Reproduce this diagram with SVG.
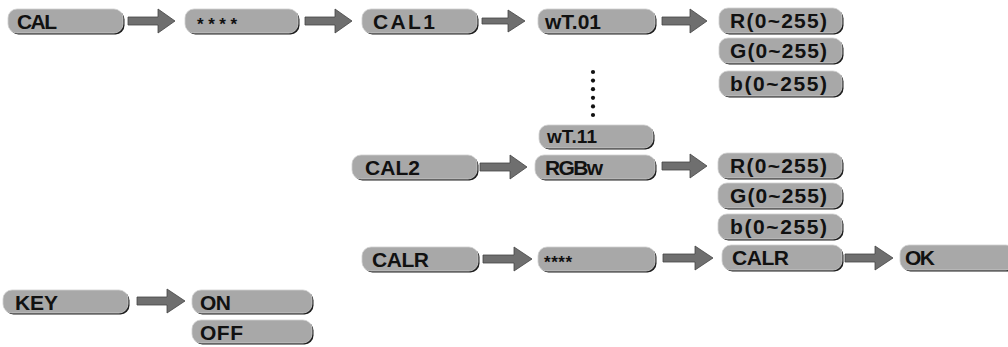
<svg xmlns="http://www.w3.org/2000/svg" width="1008" height="347" viewBox="0 0 1008 347">
<style>
.sh{fill:#1e1e1e}
.bx{fill:#a8a8a8;stroke:#cfcfcf;stroke-width:0.8}
.t{font-family:"Liberation Sans",Arial,sans-serif;font-weight:bold;font-size:21px;fill:#111}
.ast{font-family:"Liberation Sans",Arial,sans-serif;font-weight:bold;font-size:17px;fill:#111}
.ar{fill:#6f6f6f;stroke:#444;stroke-width:0.8;stroke-linejoin:miter}
.dot{fill:#111}
</style>
<rect width="1008" height="347" fill="#fff"/>
<g id="connectors">
<path class="ar" d="M128,17 H158 V9 L175,21 L158,33 V25 H128 Z"/>
<path class="ar" d="M305,17 H335 V9 L352,21 L335,33 V25 H305 Z"/>
<path class="ar" d="M482,18 H508 V10 L525,21 L508,32 V24 H482 Z"/>
<path class="ar" d="M662,17 H690 V9 L707,21 L690,33 V25 H662 Z"/>
<path class="ar" d="M480,163 H510 V155 L527,167 L510,179 V171 H480 Z"/>
<path class="ar" d="M662,162 H690 V154 L707,166 L690,178 V170 H662 Z"/>
<path class="ar" d="M483,255 H514 V247 L532,259 L514,271 V263 H483 Z"/>
<path class="ar" d="M663,254 H695 V246 L713,258 L695,270 V262 H663 Z"/>
<path class="ar" d="M845,254 H875 V246 L893,258 L875,270 V262 H845 Z"/>
<path class="ar" d="M137,297 H167 V289 L185,301 L167,313 V305 H137 Z"/>
<g id="dots">
<circle class="dot" cx="593" cy="72" r="2.1"/>
<circle class="dot" cx="593" cy="80.6" r="2.1"/>
<circle class="dot" cx="593" cy="89.2" r="2.1"/>
<circle class="dot" cx="593" cy="97.8" r="2.1"/>
<circle class="dot" cx="593" cy="106.4" r="2.1"/>
<circle class="dot" cx="593" cy="115" r="2.1"/>
</g>
</g>
<g id="n-cal"><rect class="sh" x="9.5" y="10.5" width="115" height="24" rx="9"/><rect class="bx" x="8" y="9" width="115" height="24" rx="9"/><text class="t" x="17" y="28.5" textLength="40" lengthAdjust="spacing">CAL</text></g>
<g id="n-pw1"><rect class="sh" x="186.5" y="10.5" width="113" height="24" rx="9"/><rect class="bx" x="185" y="9" width="113" height="24" rx="9"/><text class="ast" x="197" y="30" textLength="40" lengthAdjust="spacing">****</text></g>
<g id="n-cal1"><rect class="sh" x="363.5" y="10.5" width="115" height="24" rx="9"/><rect class="bx" x="362" y="9" width="115" height="24" rx="9"/><text class="t" x="373" y="28.5" textLength="62" lengthAdjust="spacing">CAL1</text></g>
<g id="n-wt01"><rect class="sh" x="539.5" y="10.5" width="117" height="24" rx="9"/><rect class="bx" x="538" y="9" width="117" height="24" rx="9"/><text class="t" x="545" y="28.5" textLength="56" lengthAdjust="spacing">wT.01</text></g>
<g id="n-r1"><rect class="sh" x="720.5" y="9.5" width="123" height="25" rx="9"/><rect class="bx" x="719" y="8" width="123" height="25" rx="9"/><text class="t" x="730" y="27.5" textLength="97" lengthAdjust="spacing">R(0~255)</text></g>
<g id="n-g1"><rect class="sh" x="720.5" y="39.5" width="123" height="25" rx="9"/><rect class="bx" x="719" y="38" width="123" height="25" rx="9"/><text class="t" x="730" y="57.5" textLength="97" lengthAdjust="spacing">G(0~255)</text></g>
<g id="n-b1"><rect class="sh" x="720.5" y="72.5" width="123" height="25" rx="9"/><rect class="bx" x="719" y="71" width="123" height="25" rx="9"/><text class="t" x="730" y="90.5" textLength="97" lengthAdjust="spacing">b(0~255)</text></g>
<g id="n-wt11"><rect class="sh" x="540.5" y="126.5" width="114" height="23" rx="9"/><rect class="bx" x="539" y="125" width="114" height="23" rx="9"/><text class="t" x="547" y="143" textLength="50" lengthAdjust="spacing" style="font-size:19px">wT.11</text></g>
<g id="n-cal2"><rect class="sh" x="353.5" y="156.5" width="125" height="24" rx="9"/><rect class="bx" x="352" y="155" width="125" height="24" rx="9"/><text class="t" x="365" y="175" textLength="55" lengthAdjust="spacing">CAL2</text></g>
<g id="n-rgbw"><rect class="sh" x="536.5" y="156.5" width="120" height="24" rx="9"/><rect class="bx" x="535" y="155" width="120" height="24" rx="9"/><text class="t" x="545" y="175" textLength="58" lengthAdjust="spacing">RGBw</text></g>
<g id="n-r2"><rect class="sh" x="719.5" y="154.5" width="124" height="25" rx="9"/><rect class="bx" x="718" y="153" width="124" height="25" rx="9"/><text class="t" x="730" y="172.5" textLength="97" lengthAdjust="spacing">R(0~255)</text></g>
<g id="n-g2"><rect class="sh" x="719.5" y="184.5" width="124" height="25" rx="9"/><rect class="bx" x="718" y="183" width="124" height="25" rx="9"/><text class="t" x="730" y="202.5" textLength="97" lengthAdjust="spacing">G(0~255)</text></g>
<g id="n-b2"><rect class="sh" x="719.5" y="215.5" width="124" height="25" rx="9"/><rect class="bx" x="718" y="214" width="124" height="25" rx="9"/><text class="t" x="730" y="233.5" textLength="97" lengthAdjust="spacing">b(0~255)</text></g>
<g id="n-calr1"><rect class="sh" x="363.5" y="248.5" width="116" height="24" rx="9"/><rect class="bx" x="362" y="247" width="116" height="24" rx="9"/><text class="t" x="372" y="267" textLength="57" lengthAdjust="spacing">CALR</text></g>
<g id="n-pw2"><rect class="sh" x="539.5" y="248.5" width="117" height="24" rx="9"/><rect class="bx" x="538" y="247" width="117" height="24" rx="9"/><text class="ast" x="544" y="268" textLength="28" lengthAdjust="spacing">****</text></g>
<g id="n-calr2"><rect class="sh" x="723.5" y="246.5" width="120" height="25" rx="9"/><rect class="bx" x="722" y="245" width="120" height="25" rx="9"/><text class="t" x="732" y="265" textLength="57" lengthAdjust="spacing">CALR</text></g>
<g id="n-ok"><rect class="sh" x="901.5" y="246.5" width="115" height="25" rx="9"/><rect class="bx" x="900" y="245" width="115" height="25" rx="9"/><text class="t" x="905" y="265" textLength="30" lengthAdjust="spacing">OK</text></g>
<g id="n-key"><rect class="sh" x="4.5" y="291.5" width="125" height="23" rx="9"/><rect class="bx" x="3" y="290" width="125" height="23" rx="9"/><text class="t" x="15" y="309.5" textLength="43" lengthAdjust="spacing">KEY</text></g>
<g id="n-on"><rect class="sh" x="193.5" y="291.5" width="120" height="23" rx="9"/><rect class="bx" x="192" y="290" width="120" height="23" rx="9"/><text class="t" x="200" y="309.5" textLength="31" lengthAdjust="spacing">ON</text></g>
<g id="n-off"><rect class="sh" x="193.5" y="321.5" width="120" height="23" rx="9"/><rect class="bx" x="192" y="320" width="120" height="23" rx="9"/><text class="t" x="200" y="339.5" textLength="43" lengthAdjust="spacing">OFF</text></g>
</svg>
